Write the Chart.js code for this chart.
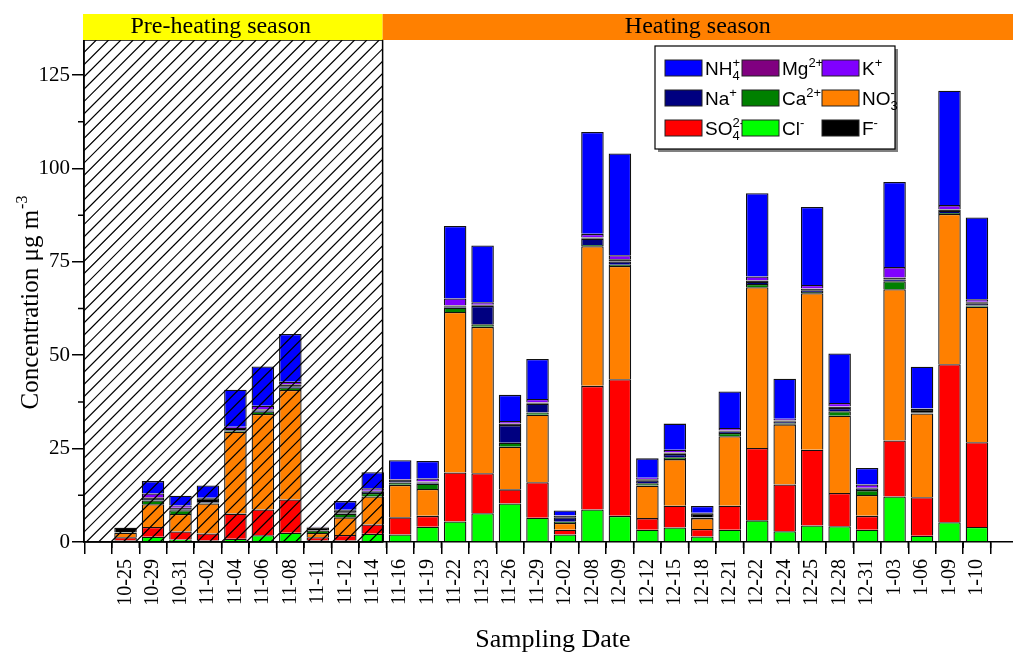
<!DOCTYPE html>
<html>
<head>
<meta charset="utf-8">
<title>Ion concentrations</title>
<script src="https://cdn.jsdelivr.net/npm/chart.js@4.4.1/dist/chart.umd.min.js"></script>
<style>
    html, body { margin: 0; padding: 0; background: #fff; overflow: hidden; }
    #wrap { width: 1013px; height: 654px; }
</style>
</head>
<body>
<div id="wrap"><canvas id="ion-chart" width="1013" height="654"></canvas></div>
<script>
// sampling dates (first 10 = pre-heating season)
const dates = ['10-25', '10-29', '10-31', '11-02', '11-04', '11-06', '11-08', '11-11', '11-12', '11-14',
    '11-16', '11-19', '11-22', '11-23', '11-26', '11-29', '12-02', '12-08', '12-09', '12-12',
    '12-15', '12-18', '12-21', '12-22', '12-24', '12-25', '12-28', '12-31', '1-03', '1-06', '1-09', '1-10'];

// concentrations, µg m-3
const clValues  = [0.4, 1.4, 0.7, 0.4, 0.9, 1.8, 2.5, 0.4, 0.4, 2.2, 2.0, 4.1, 5.5, 7.7, 10.3, 6.5, 2.0, 8.7, 7.0, 3.3, 3.9, 1.5, 3.3, 5.8, 2.9, 4.4, 4.2, 3.3, 12.2, 1.7, 5.3, 4.0];
const so4Values = [0.9, 2.6, 2.1, 1.9, 6.7, 6.9, 8.9, 0.9, 1.5, 2.5, 4.6, 2.9, 13.1, 10.7, 3.8, 9.5, 1.3, 33.1, 36.6, 3.1, 5.8, 2.0, 6.4, 19.4, 12.5, 20.3, 8.9, 3.7, 15.0, 10.3, 42.3, 22.7];
const no3Values = [1.2, 6.1, 4.7, 8.0, 21.9, 25.6, 29.3, 1.1, 4.7, 7.5, 8.7, 7.2, 43.0, 39.2, 11.4, 18.1, 1.8, 37.4, 30.3, 8.7, 12.5, 2.9, 18.6, 43.0, 16.1, 41.9, 20.7, 5.6, 40.5, 22.4, 40.2, 36.3];
const caValues  = [0.1, 1.0, 1.0, 0.2, 0.3, 0.6, 0.6, 0.7, 1.0, 0.9, 0.6, 1.4, 1.1, 0.7, 1.1, 0.6, 0.3, 0.3, 0.3, 0.6, 0.5, 0.1, 0.9, 0.9, 0.3, 0.3, 1.2, 1.3, 2.1, 0.1, 0.3, 0.3];
const naValues  = [0.1, 0.4, 0.3, 0.2, 0.2, 0.3, 0.4, 0.1, 0.2, 0.3, 0.4, 0.3, 0.3, 4.9, 4.7, 2.3, 1.2, 1.7, 0.9, 0.8, 0.9, 0.1, 0.3, 0.5, 0.4, 0.5, 0.9, 0.3, 0.5, 0.1, 0.5, 0.5];
const fValues   = [1.1, 0.3, 0.3, 1.0, 0.5, 0.3, 0.5, 0.7, 0.7, 0.2, 0.3, 0.2, 0.3, 0.2, 0.3, 0.3, 0.4, 0.3, 0.6, 0.3, 0.3, 1.1, 0.3, 0.4, 0.3, 0.4, 0.3, 0.2, 0.4, 1.0, 0.4, 0.4];
const mgValues  = [0.05, 0.2, 0.1, 0.05, 0.05, 0.1, 0.1, 0.05, 0.05, 0.1, 0.1, 0.1, 0.1, 0.1, 0.1, 0.1, 0.05, 0.1, 0.1, 0.1, 0.1, 0.05, 0.1, 0.1, 0.1, 0.1, 0.1, 0.1, 0.1, 0.05, 0.1, 0.1];
const kValues   = [0.05, 1.0, 0.6, 0.1, 0.3, 0.9, 0.6, 0.05, 0.1, 0.7, 0.2, 0.8, 1.8, 0.7, 0.7, 0.9, 0.1, 0.9, 1.0, 0.3, 0.7, 0.1, 0.6, 1.0, 0.4, 0.9, 0.9, 0.9, 2.8, 0.1, 1.1, 0.7];
const nh4Values = [0, 3.3, 2.6, 3.3, 9.9, 10.5, 12.8, 0.1, 2.3, 4.3, 5.0, 4.7, 19.4, 15.2, 7.0, 10.7, 1.3, 27.3, 27.2, 5.2, 7.0, 1.8, 9.8, 22.3, 10.7, 20.9, 13.3, 4.4, 22.8, 11.2, 30.6, 21.9];

const yTicks = [0, 25, 50, 75, 100, 125];
const seasonNames = ['Pre-heating season', 'Heating season'];
const seasonSplit = 9.36; // boundary between 11-14 and 11-16, in category units

// stacked bottom -> top
const series = [
    { id: 'cl', data: clValues, color: '#00ff00' },
    { id: 'so4', data: so4Values, color: '#ff0000' },
    { id: 'no3', data: no3Values, color: '#ff8000' },
    { id: 'ca', data: caValues, color: '#008000' },
    { id: 'na', data: naValues, color: '#000080' },
    { id: 'f', data: fValues, color: '#000000' },
    { id: 'mg', data: mgValues, color: '#800080' },
    { id: 'k', data: kValues, color: '#8000ff' },
    { id: 'nh4', data: nh4Values, color: '#0000ff' }
];

const ionLabels = {
    nh4: { base: 'NH', sub: '4', sup: '+' },
    mg: { base: 'Mg', sup: '2+' },
    k: { base: 'K', sup: '+' },
    na: { base: 'Na', sup: '+' },
    ca: { base: 'Ca', sup: '2+' },
    no3: { base: 'NO', sub: '3', sup: '-' },
    so4: { base: 'SO', sub: '4', sup: '2-' },
    cl: { base: 'Cl', sup: '-' },
    f: { base: 'F', sup: '-' }
};
const legendRows = [['nh4', 'mg', 'k'], ['na', 'ca', 'no3'], ['so4', 'cl', 'f']];

const SERIF = '"Liberation Serif", "Times New Roman", serif';
const SANS = '"Liberation Sans", Arial, sans-serif';

function colorOf(id) {
    return series.find(s => s.id === id).color;
}

function drawIon(ctx, x, y, lab) {
    ctx.font = '19px ' + SANS;
    ctx.fillText(lab.base, x, y);
    const x2 = x + ctx.measureText(lab.base).width;
    ctx.font = '13px ' + SANS;
    if (lab.sub) ctx.fillText(lab.sub, x2, y + 5);
    if (lab.sup) ctx.fillText(lab.sup, x2, y - 8);
}

const decor = {
    id: 'decor',
    afterDatasetsDraw(chart) {
        const { ctx, chartArea: a, scales: { x } } = chart;
        const split = x.getPixelForValue(seasonSplit);
        const h = a.bottom - a.top;
        // hatching over the pre-heating period
        ctx.save();
        ctx.beginPath();
        ctx.rect(a.left, a.top, split - a.left, h);
        ctx.clip();
        ctx.strokeStyle = '#000';
        ctx.lineWidth = 1.2;
        ctx.beginPath();
        for (let sx = a.left - h; sx < split + 2; sx += 12.3) {
            ctx.moveTo(sx, a.bottom);
            ctx.lineTo(sx + h, a.top);
        }
        ctx.stroke();
        ctx.restore();
        ctx.save();
        ctx.strokeStyle = '#000';
        ctx.lineWidth = 1.5;
        ctx.strokeRect(a.left, a.top, split - a.left, h);
        ctx.restore();
    },
    afterDraw(chart) {
        const { ctx, chartArea: a, scales: { x, y } } = chart;
        const split = x.getPixelForValue(seasonSplit);
        ctx.save();

        // season bands
        ctx.fillStyle = '#ffff00';
        ctx.fillRect(83, 14, split - 83, a.top - 14);
        ctx.fillStyle = '#ff8000';
        ctx.fillRect(split, 14, chart.width - split, a.top - 14);
        ctx.fillStyle = '#000';
        ctx.font = '24px ' + SERIF;
        ctx.textAlign = 'center';
        ctx.textBaseline = 'alphabetic';
        ctx.fillText(seasonNames[0], (83 + split) / 2 - 12, 33);
        ctx.fillText(seasonNames[1], (split + chart.width) / 2, 33);

        // minor ticks
        ctx.strokeStyle = '#000';
        ctx.lineWidth = 1.5;
        ctx.beginPath();
        for (let v = 12.5; v < y.max; v += 25) {
            const py = y.getPixelForValue(v);
            ctx.moveTo(a.left, py);
            ctx.lineTo(a.left - 6, py);
        }
        for (let v = -0.5; v < x.max; v += 1) {
            const px = x.getPixelForValue(v);
            ctx.moveTo(px, a.bottom);
            ctx.lineTo(px, a.bottom + 6);
        }
        ctx.stroke();

        // legend
        const lx = 655, ly = 46, lw = 240, lh = 103;
        ctx.fillStyle = '#808080';
        ctx.fillRect(lx + 3, ly + 3, lw, lh);
        ctx.fillStyle = '#fff';
        ctx.fillRect(lx, ly, lw, lh);
        ctx.lineWidth = 1.2;
        ctx.strokeRect(lx, ly, lw, lh);
        const colX = [665, 742, 822];
        const rowY = [60, 90, 120];
        ctx.textAlign = 'left';
        legendRows.forEach((row, r) => {
            row.forEach((id, c) => {
                ctx.fillStyle = colorOf(id);
                ctx.fillRect(colX[c], rowY[r], 37, 16);
                ctx.strokeStyle = '#222';
                ctx.lineWidth = 1;
                ctx.strokeRect(colX[c], rowY[r], 37, 16);
                ctx.fillStyle = '#000';
                drawIon(ctx, colX[c] + 40, rowY[r] + 15, ionLabels[id]);
            });
        });

        // axis titles
        ctx.fillStyle = '#000';
        ctx.font = '26px ' + SERIF;
        ctx.textAlign = 'center';
        ctx.fillText('Sampling Date', 553, 647);

        ctx.translate(38, 303);
        ctx.rotate(-Math.PI / 2);
        ctx.textAlign = 'left';
        ctx.font = '25px ' + SERIF;
        const main = 'Concentration μg m';
        const w1 = ctx.measureText(main).width;
        ctx.font = '16px ' + SERIF;
        const w2 = ctx.measureText('-3').width;
        const start = -(w1 + w2) / 2;
        ctx.font = '25px ' + SERIF;
        ctx.fillText(main, start, 0);
        ctx.font = '16px ' + SERIF;
        ctx.fillText('-3', start + w1 + 1, -11);
        ctx.restore();
    }
};

const datasets = series.map(s => ({
    label: s.id,
    data: s.data.map((v, i) => ({ x: i, y: v })),
    backgroundColor: s.color,
    borderColor: '#111',
    borderWidth: 1.3,
    barPercentage: 0.82,
    categoryPercentage: 1
}));

const ctx = document.getElementById('ion-chart').getContext('2d');
const ionChart = new Chart(ctx, {
    type: 'bar',
    data: { datasets: datasets },
    plugins: [decor],
    options: {
        responsive: false,
        animation: false,
        layout: { padding: { top: 40, right: 0, bottom: 0, left: 0 } },
        plugins: { legend: { display: false }, tooltip: { enabled: false } },
        scales: {
            x: {
                type: 'linear',
                stacked: true,
                min: -1,
                max: 31.8,
                afterFit: s => { s.height = 112; s.paddingLeft = 0; s.paddingRight = 0; },
                grid: { drawOnChartArea: false, tickLength: 12, color: '#000', lineWidth: 1.5 },
                border: { display: true, color: '#000', width: 1.5 },
                ticks: {
                    stepSize: 1,
                    includeBounds: false,
                    autoSkip: false,
                    maxRotation: 90,
                    minRotation: 90,
                    padding: 5,
                    color: '#000',
                    font: { family: SERIF, size: 20 },
                    callback: v => dates[v] ?? ''
                }
            },
            y: {
                stacked: true,
                min: 0,
                max: 134.4,
                afterFit: s => { s.width = 84; s.paddingTop = 0; s.paddingBottom = 0; },
                afterBuildTicks: s => { s.ticks = yTicks.map(v => ({ value: v })); },
                grid: { drawOnChartArea: false, tickLength: 12, color: '#000', lineWidth: 1.5 },
                border: { display: true, color: '#000', width: 1.5 },
                ticks: {
                    padding: 2,
                    color: '#000',
                    font: { family: SERIF, size: 21 }
                }
            }
        }
    }
});
</script>
</body>
</html>
